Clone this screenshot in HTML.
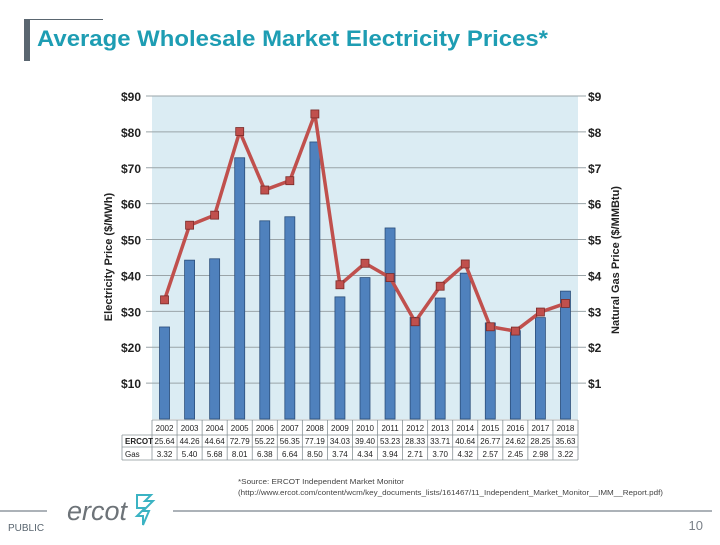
<!DOCTYPE html>
<html><head><meta charset="utf-8"><style>
body{margin:0;width:720px;height:540px;background:#fff;overflow:hidden;font-family:"Liberation Sans",sans-serif}
</style></head><body>
<svg width="720" height="540" viewBox="0 0 720 540" xmlns="http://www.w3.org/2000/svg">
<rect x="24" y="19" width="6" height="42" fill="#5a6670"/>
<line x1="24" y1="19.5" x2="103" y2="19.5" stroke="#5a6670" stroke-width="1"/>
<text x="37" y="46" font-size="22" font-weight="bold" fill="#1e9db3" textLength="511" lengthAdjust="spacingAndGlyphs">Average Wholesale Market Electricity Prices*</text>
<g id="chart"></g>
<text x="238" y="484" font-size="7" fill="#444" textLength="166" lengthAdjust="spacingAndGlyphs">*Source: ERCOT Independent Market Monitor</text>
<text x="238" y="495" font-size="7" fill="#444" textLength="425" lengthAdjust="spacingAndGlyphs">(http://www.ercot.com/content/wcm/key_documents_lists/161467/11_Independent_Market_Monitor__IMM__Report.pdf)</text>
<line x1="0" y1="511" x2="47" y2="511" stroke="#5a6670" stroke-width="1"/>
<line x1="173" y1="511" x2="712" y2="511" stroke="#5a6670" stroke-width="1"/>
<text x="67" y="520" font-size="27" font-style="italic" fill="#6d7378">ercot</text>
<path d="M137 495 l14 0 l-6 6 l8 0 l-10 10 l6 0 l-6 14 l0-9 l-6 0 l8-8 l-8 0 z" fill="none" stroke="#3bb3c3" stroke-width="2"/>
<text x="8" y="531" font-size="10" fill="#5a6670">PUBLIC</text>
<text x="703" y="530" font-size="13" fill="#7a8088" text-anchor="end">10</text>
</svg>
<script>
const years=["2002","2003","2004","2005","2006","2007","2008","2009","2010","2011","2012","2013","2014","2015","2016","2017","2018"];
const ercot=[25.64,44.26,44.64,72.79,55.22,56.35,77.19,34.03,39.40,53.23,28.33,33.71,40.64,26.77,24.62,28.25,35.63];
const gas=[3.32,5.40,5.68,8.01,6.38,6.64,8.50,3.74,4.34,3.94,2.71,3.70,4.32,2.57,2.45,2.98,3.22];
const leftTicks=[10,20,30,40,50,60,70,80,90];
const rightTicks=[1,2,3,4,5,6,7,8,9];
const ns="http://www.w3.org/2000/svg";
const g=document.getElementById('chart');
const X0=152,X1=578,Y0=419,Y90=96;
const colW=(X1-X0)/years.length;
const yL=v=>Y0-(v/90)*(Y0-Y90);
const yR=v=>Y0-(v/9)*(Y0-Y90);
const xC=i=>X0+colW*(i+0.5);
function mk(tag,at,parent){const e=document.createElementNS(ns,tag);for(const k in at)e.setAttribute(k,at[k]);(parent||g).appendChild(e);return e;}
let e;
e=mk('rect',{x:X0,y:Y90,width:X1-X0,height:Y0-Y90,fill:"#dbecf3"});


leftTicks.forEach((t,i)=>{
 const y=yL(t);
 e=mk('line',{x1:X0-6,x2:X1+8,y1:y,y2:y,stroke:"#9aa4a8","stroke-width":1});
 
 
 e=mk('text',{x:X0-11,y:y+5,"font-size":12,"font-weight":"bold","text-anchor":"end",fill:"#222"});e.textContent="$"+t;
 
 
});
rightTicks.forEach(t=>{
 const y=yR(t);
 e=mk('text',{x:X1+10,y:y+5,"font-size":12,"font-weight":"bold",fill:"#222"});e.textContent="$"+t;
 
 
});
e=mk('text',{transform:"translate(112,257) rotate(-90)","font-size":11,"font-weight":"bold","text-anchor":"middle",fill:"#222"});e.textContent="Electricity Price ($/MWh)";


e=mk('text',{transform:"translate(619,260) rotate(-90)","font-size":11,"font-weight":"bold","text-anchor":"middle",fill:"#222"});e.textContent="Natural Gas Price ($/MMBtu)";


ercot.forEach((v,i)=>{
 e=mk('rect',{x:xC(i)-5,y:yL(v),width:10,height:Y0-yL(v),fill:"#4f81bd",stroke:"#2a4d7a","stroke-width":0.8});
 
 
});
e=mk('polyline',{points:gas.map((v,i)=>xC(i)+","+yR(v)).join(" "),fill:"none",stroke:"#c0504d","stroke-width":3.5,"stroke-linejoin":"round"});


gas.forEach((v,i)=>{
 e=mk('rect',{x:xC(i)-4,y:yR(v)-4,width:8,height:8,fill:"#c0504d",stroke:"#7a2a28","stroke-width":0.8});
 
 
});
const T0=122,rows=[420,435,447,460];
for(let r=0;r<4;r++){
 e=mk('line',{x1:r==0?X0:T0,x2:X1,y1:rows[r],y2:rows[r],stroke:"#8a9498","stroke-width":0.8});
 
 
}
for(let i=0;i<=years.length;i++){
 const x=X0+colW*i;
 e=mk('line',{x1:x,x2:x,y1:rows[0],y2:rows[3],stroke:"#8a9498","stroke-width":0.8});
 
 
}
e=mk('line',{x1:T0,x2:T0,y1:rows[1],y2:rows[3],stroke:"#8a9498","stroke-width":0.8});


e=mk('text',{x:T0+3,y:444,"font-size":8,"font-weight":"bold",fill:"#222"});e.textContent="ERCOT";


e=mk('text',{x:T0+3,y:457,"font-size":8,fill:"#222"});e.textContent="Gas";


years.forEach((y,i)=>{
 e=mk('text',{x:xC(i),y:431,"font-size":8,"text-anchor":"middle",fill:"#222"});e.textContent=y;
 
 
 e=mk('text',{x:xC(i),y:444,"font-size":8,"text-anchor":"middle",fill:"#222"});e.textContent=ercot[i].toFixed(2);
 
 
 e=mk('text',{x:xC(i),y:457,"font-size":8,"text-anchor":"middle",fill:"#222"});e.textContent=gas[i].toFixed(2);
 
 
});
</script>
</body></html>
